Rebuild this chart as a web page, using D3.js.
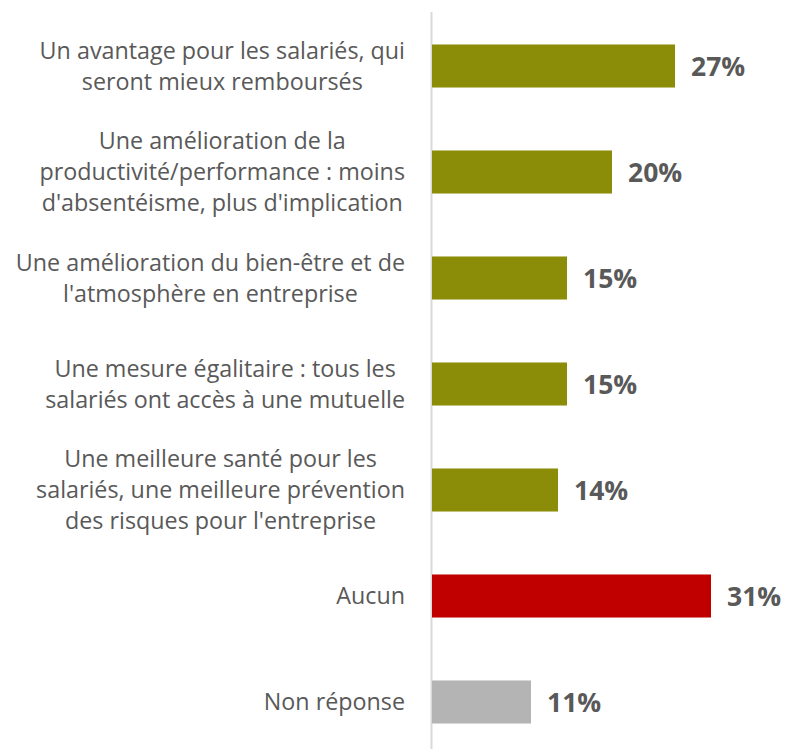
<!DOCTYPE html>
<html><head><meta charset="utf-8">
<script src="https://cdn.jsdelivr.net/npm/d3@7"></script>
<style>body{margin:0;background:#fff}svg{display:block}</style>
</head><body>
<script>
const categories = [
  ["Un avantage pour les salariés, qui", "seront mieux remboursés"],
  ["Une amélioration de la", "productivité/performance : moins", "d'absentéisme, plus d'implication"],
  ["Une amélioration du bien-être et de", "l'atmosphère en entreprise"],
  ["Une mesure égalitaire : tous les", "salariés ont accès à une mutuelle"],
  ["Une meilleure santé pour les", "salariés, une meilleure prévention", "des risques pour l'entreprise"],
  ["Aucun"],
  ["Non réponse"]
];
const values = [27, 20, 15, 15, 14, 31, 11];
const colors = ["#8b8c08", "#8b8c08", "#8b8c08", "#8b8c08", "#8b8c08", "#c00000", "#b4b4b4"];

const W = 786, H = 749;
const x0 = 432;
const svg = d3.select("body").append("svg").attr("width", W).attr("height", H);
const x = d3.scaleLinear().domain([0, 31]).range([x0, x0 + 279]);
const y = d3.scaleBand().domain(d3.range(values.length)).range([13, 755]).paddingInner(0.594).paddingOuter(0.297);

svg.append("line").attr("x1", 431.5).attr("x2", 431.5).attr("y1", 12).attr("y2", H)
  .attr("stroke", "#d9d9d9").attr("stroke-width", 2);

svg.selectAll("rect.bar").data(values).join("rect").attr("class", "bar")
  .attr("x", x0).attr("y", (d, i) => y(i)).attr("height", y.bandwidth())
  .attr("width", d => x(d) - x0).attr("fill", (d, i) => colors[i]);

svg.selectAll("text.val").data(values).join("text").attr("class", "val")
  .attr("x", d => x(d) + 16).attr("y", (d, i) => y(i) + y.bandwidth() / 2)
  .attr("dy", "0.36em").attr("font-family", "Open Sans, sans-serif").attr("font-weight", "bold")
  .attr("font-size", 26.5).attr("fill", "#595959").text(d => d + "%");

const lh = 31, fs = 23.3;
const g = svg.append("g").attr("font-family", "Open Sans, sans-serif").attr("font-size", fs).attr("fill", "#595959");
categories.forEach((lines, i) => {
  const cy = y(i) + y.bandwidth() / 2;
  const t = g.append("text").attr("text-anchor", "middle");
  const tspans = lines.map((l, k) => t.append("tspan").attr("y", cy + (k - (lines.length - 1) / 2) * lh).attr("dy", "0.35em").text(l));
  const maxW = d3.max(tspans, s => s.node().getComputedTextLength());
  tspans.forEach(s => s.attr("x", 405 - maxW / 2));
});
</script>
</body></html>
